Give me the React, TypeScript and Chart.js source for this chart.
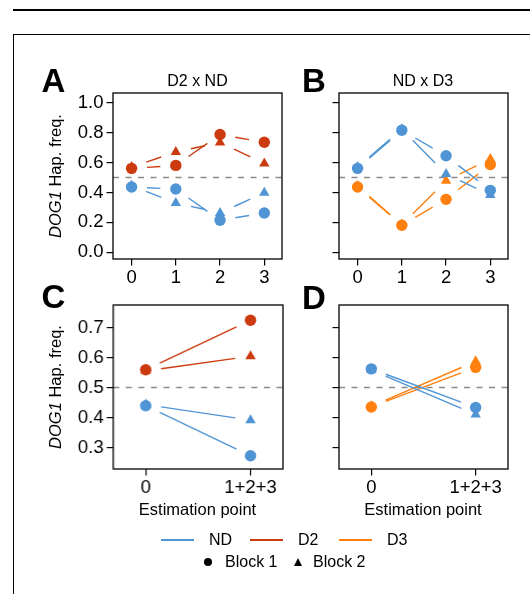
import React, { useEffect, useRef } from "react";
import { Chart, registerables } from "chart.js";
Chart.register(...registerables);

// ---------- data ----------
const colorND = "#4f94d4";
const colorD2 = "#cc3a0f";
const colorD3 = "#ff800e";

const pointsAB = [0, 1, 2, 3];
const pointsCD = [0, 1];
const xLabelsAB = ["0", "1", "2", "3"];
const xLabelsCD = ["0", "1+2+3"];
const yTicksAB = [0, 0.2, 0.4, 0.6, 0.8, 1.0];
const yTicksCD = [0.3, 0.4, 0.5, 0.6, 0.7];
const neutralFreq = 0.5;

// Panel A: D2 x ND
const A_D2_block1 = [0.561, 0.581, 0.787, 0.736];
const A_D2_block2 = [0.57, 0.67, 0.734, 0.594];
const A_ND_block1 = [0.436, 0.423, 0.214, 0.263];
const A_ND_block2 = [0.444, 0.33, 0.263, 0.398];
// Panel B: ND x D3
const B_ND_block1 = [0.561, 0.816, 0.645, 0.414];
const B_ND_block2 = [0.57, 0.822, 0.523, 0.383];
const B_D3_block1 = [0.436, 0.181, 0.354, 0.587];
const B_D3_block2 = [0.443, 0.185, 0.478, 0.623];
// Panel C: D2 x ND pooled
const C_D2_block1 = [0.559, 0.724];
const C_D2_block2 = [0.555, 0.604];
const C_ND_block1 = [0.439, 0.272];
const C_ND_block2 = [0.443, 0.391];
// Panel D: ND x D3 pooled
const D_ND_block1 = [0.562, 0.433];
const D_ND_block2 = [0.558, 0.41];
const D_D3_block1 = [0.435, 0.567];
const D_D3_block2 = [0.437, 0.587];

const FONT = '"Liberation Sans", Arial, Helvetica, sans-serif';
const GAP = 15.5;
const Y_AXIS_W = 60;
const X_AXIS_H = 40;
const PAD_TOP = 20;
const PAD_RIGHT = 10;

type Series = { values: number[]; color: string; block: 1 | 2; order: number };
type PanelProps = {
  box: { l: number; t: number; r: number; b: number };
  xs: number[];
  xLabels: string[];
  xMin: number;
  xMax: number;
  yTicks: number[];
  yMin: number;
  yMax: number;
  showYLabels: boolean;
  series: Series[];
};

const decorPlugin = {
  id: "decor",
  beforeDatasetsDraw(chart: any) {
    const { ctx, chartArea, scales } = chart;
    const xs = scales.x;
    const ys = scales.y;
    ctx.save();
    ctx.strokeStyle = "#8a8a8a";
    ctx.lineWidth = 1.5;
    ctx.setLineDash([6, 6.5]);
    const yy = ys.getPixelForValue(neutralFreq);
    ctx.beginPath();
    ctx.moveTo(chartArea.left, yy);
    ctx.lineTo(chartArea.right, yy);
    ctx.stroke();
    ctx.setLineDash([]);
    chart.data.datasets.forEach((ds: any) => {
      const pts = ds.data;
      ctx.strokeStyle = ds.lineColor;
      ctx.lineWidth = 1.4;
      for (let i = 0; i < pts.length - 1; i++) {
        const x1 = xs.getPixelForValue(pts[i].x);
        const y1 = ys.getPixelForValue(pts[i].y);
        const x2 = xs.getPixelForValue(pts[i + 1].x);
        const y2 = ys.getPixelForValue(pts[i + 1].y);
        const dx = x2 - x1;
        const dy = y2 - y1;
        const d = Math.hypot(dx, dy);
        if (d <= 2 * GAP) continue;
        const ux = dx / d;
        const uy = dy / d;
        ctx.beginPath();
        ctx.moveTo(x1 + ux * GAP, y1 + uy * GAP);
        ctx.lineTo(x2 - ux * GAP, y2 - uy * GAP);
        ctx.stroke();
      }
    });
    ctx.restore();
  },
  afterDraw(chart: any) {
    const { ctx, chartArea } = chart;
    ctx.save();
    ctx.strokeStyle = "#000";
    ctx.lineWidth = 1.3;
    ctx.strokeRect(chartArea.left, chartArea.top, chartArea.right - chartArea.left, chartArea.bottom - chartArea.top);
    ctx.restore();
  },
};

function Panel(p: PanelProps) {
  const ref = useRef<HTMLCanvasElement>(null);
  const left = p.box.l - Y_AXIS_W;
  const top = p.box.t - PAD_TOP;
  const width = p.box.r - p.box.l + Y_AXIS_W + PAD_RIGHT;
  const height = p.box.b - p.box.t + PAD_TOP + X_AXIS_H;
  useEffect(() => {
    if (!ref.current) return;
    const datasets = p.series.map((s) => ({
      data: p.xs.map((x, i) => ({ x, y: s.values[i] })),
      pointStyle: s.block === 1 ? "circle" : "triangle",
      pointRadius: s.block === 1 ? 5.7 : 6,
      pointBackgroundColor: s.color,
      pointBorderColor: s.color,
      pointBorderWidth: 0,
      lineColor: s.color,
      showLine: false,
      order: s.order,
    }));
    const tickFont = { family: FONT, size: 18.5 };
    const chart = new Chart(ref.current, {
      type: "scatter",
      data: { datasets: datasets as any },
      plugins: [decorPlugin],
      options: {
        responsive: false,
        animation: false,
        events: [],
        layout: { padding: { top: PAD_TOP, right: PAD_RIGHT, left: 0, bottom: 0 } },
        plugins: { legend: { display: false }, tooltip: { enabled: false } },
        scales: {
          x: {
            type: "linear",
            min: p.xMin,
            max: p.xMax,
            afterBuildTicks: (s: any) => {
              s.ticks = p.xs.map((v) => ({ value: v }));
            },
            afterFit: (s: any) => {
              s.height = X_AXIS_H;
            },
            ticks: {
              callback: (_v: any, i: number) => p.xLabels[i],
              font: tickFont,
              color: "#000",
              padding: 1,
              maxRotation: 0,
              autoSkip: false,
            },
            grid: { display: true, drawOnChartArea: false, drawTicks: true, tickLength: 6.5, color: "#000", lineWidth: 1.2 },
            border: { display: false },
          },
          y: {
            type: "linear",
            min: p.yMin,
            max: p.yMax,
            afterBuildTicks: (s: any) => {
              s.ticks = p.yTicks.map((v) => ({ value: v }));
            },
            afterFit: (s: any) => {
              s.width = Y_AXIS_W;
            },
            ticks: {
              display: p.showYLabels,
              callback: (v: any) => Number(v).toFixed(1),
              font: tickFont,
              color: "#000",
              padding: 3,
            },
            grid: { display: true, drawOnChartArea: false, drawTicks: true, tickLength: 6.5, color: "#000", lineWidth: 1.2 },
            border: { display: false },
          },
        },
      } as any,
    });
    return () => chart.destroy();
  }, []);
  return (
    <canvas
      ref={ref}
      width={width}
      height={height}
      style={{ position: "absolute", left, top, width, height }}
    />
  );
}

const Txt = (props: { x: number; y: number; size: number; bold?: boolean; align?: "left" | "center"; children: any }) => {
  const tx = props.align === "left" ? "0" : "-50%";
  return (
    <div
      style={{
        position: "absolute",
        left: props.x,
        top: props.y,
        fontSize: props.size,
        fontWeight: props.bold ? "bold" : "normal",
        lineHeight: 1,
        whiteSpace: "nowrap",
        transform: `translate(${tx}, -50%)`,
        color: "#000",
      }}
    >
      {props.children}
    </div>
  );
};

const YTitle = (props: { x: number; y: number }) => (
  <div
    style={{
      position: "absolute",
      left: props.x,
      top: props.y,
      fontSize: 16.5,
      lineHeight: 1,
      whiteSpace: "nowrap",
      transform: "translate(-50%, -50%) rotate(-90deg)",
      color: "#000",
    }}
  >
    <i>DOG1</i> Hap. freq.
  </div>
);

const LegendLine = (props: { x1: number; x2: number; y: number; color: string }) => (
  <div
    style={{
      position: "absolute",
      left: props.x1,
      top: props.y - 0.75,
      width: props.x2 - props.x1,
      height: 1.5,
      background: props.color,
    }}
  />
);

export default function App() {
  const boxA = { l: 113, t: 92.5, r: 282, b: 259 };
  const boxB = { l: 338.5, t: 92.5, r: 507.5, b: 259 };
  const boxC = { l: 113, t: 304.5, r: 282.5, b: 469 };
  const boxD = { l: 338.5, t: 304.5, r: 507.5, b: 469 };
  const abRange = { xMin: -0.42, xMax: 3.4, yMin: -0.045, yMax: 1.065 };
  const cdRange = { xMin: -0.31, xMax: 1.31, yMin: 0.228, yMax: 0.775 };
  return (
    <div
      style={{
        position: "absolute",
        left: 0,
        top: 0,
        width: 530,
        height: 594,
        background: "#fff",
        overflow: "hidden",
        fontFamily: FONT,
      }}
    >
      <div style={{ position: "absolute", left: 12.5, top: 9, width: 520, height: 1.5, background: "#000" }} />
      <div
        style={{
          position: "absolute",
          left: 12.5,
          top: 33.5,
          width: 530,
          height: 600,
          borderTop: "1.5px solid #000",
          borderLeft: "1.5px solid #000",
        }}
      />
      <Panel
        box={boxA}
        xs={pointsAB}
        xLabels={xLabelsAB}
        yTicks={yTicksAB}
        showYLabels={true}
        {...abRange}
        series={[
          { values: A_D2_block2, color: colorD2, block: 2, order: 4 },
          { values: A_D2_block1, color: colorD2, block: 1, order: 3 },
          { values: A_ND_block2, color: colorND, block: 2, order: 2 },
          { values: A_ND_block1, color: colorND, block: 1, order: 1 },
        ]}
      />
      <Panel
        box={boxB}
        xs={pointsAB}
        xLabels={xLabelsAB}
        yTicks={yTicksAB}
        showYLabels={false}
        {...abRange}
        series={[
          { values: B_D3_block2, color: colorD3, block: 2, order: 4 },
          { values: B_D3_block1, color: colorD3, block: 1, order: 3 },
          { values: B_ND_block2, color: colorND, block: 2, order: 2 },
          { values: B_ND_block1, color: colorND, block: 1, order: 1 },
        ]}
      />
      <Panel
        box={boxC}
        xs={pointsCD}
        xLabels={xLabelsCD}
        yTicks={yTicksCD}
        showYLabels={true}
        {...cdRange}
        series={[
          { values: C_D2_block2, color: colorD2, block: 2, order: 4 },
          { values: C_D2_block1, color: colorD2, block: 1, order: 3 },
          { values: C_ND_block2, color: colorND, block: 2, order: 2 },
          { values: C_ND_block1, color: colorND, block: 1, order: 1 },
        ]}
      />
      <Panel
        box={boxD}
        xs={pointsCD}
        xLabels={xLabelsCD}
        yTicks={yTicksCD}
        showYLabels={false}
        {...cdRange}
        series={[
          { values: D_D3_block2, color: colorD3, block: 2, order: 4 },
          { values: D_D3_block1, color: colorD3, block: 1, order: 3 },
          { values: D_ND_block2, color: colorND, block: 2, order: 2 },
          { values: D_ND_block1, color: colorND, block: 1, order: 1 },
        ]}
      />

      <Txt x={41.5} y={80} size={33} bold align="left">A</Txt>
      <Txt x={302} y={80} size={33} bold align="left">B</Txt>
      <Txt x={41.5} y={295.5} size={33} bold align="left">C</Txt>
      <Txt x={302} y={297} size={33} bold align="left">D</Txt>

      <Txt x={197.5} y={80.5} size={16}>D2 x ND</Txt>
      <Txt x={423} y={80.5} size={16}>ND x D3</Txt>

      <YTitle x={55} y={175.5} />
      <YTitle x={55} y={386.5} />

      <Txt x={197.5} y={509} size={16.5}>Estimation point</Txt>
      <Txt x={423} y={509} size={16.5}>Estimation point</Txt>

      <LegendLine x1={160.5} x2={194} y={540} color={colorND} />
      <Txt x={209} y={540} size={16} align="left">ND</Txt>
      <LegendLine x1={249.5} x2={283} y={540} color={colorD2} />
      <Txt x={298} y={540} size={16} align="left">D2</Txt>
      <LegendLine x1={338.5} x2={372} y={540} color={colorD3} />
      <Txt x={387} y={540} size={16} align="left">D3</Txt>

      <div
        style={{
          position: "absolute",
          left: 208.3 - 4,
          top: 562 - 4,
          width: 8,
          height: 8,
          borderRadius: "50%",
          background: "#000",
        }}
      />
      <Txt x={225} y={562} size={16} align="left">Block 1</Txt>
      <div
        style={{
          position: "absolute",
          left: 298.3 - 4.5,
          top: 562 - 4.5,
          width: 0,
          height: 0,
          borderLeft: "4.5px solid transparent",
          borderRight: "4.5px solid transparent",
          borderBottom: "8px solid #000",
        }}
      />
      <Txt x={313} y={562} size={16} align="left">Block 2</Txt>
    </div>
  );
}
